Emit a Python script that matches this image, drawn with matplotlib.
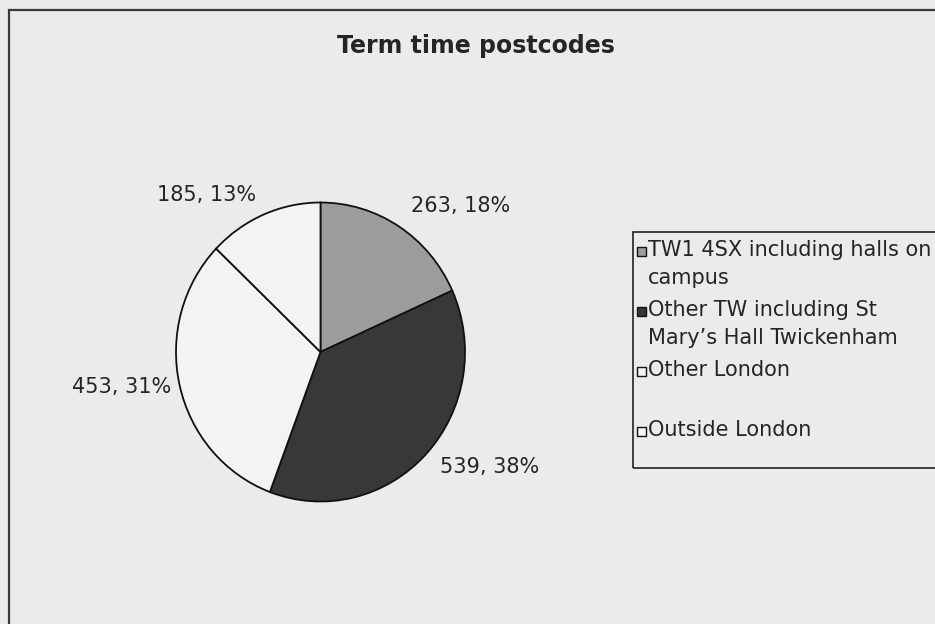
import numpy as np
import matplotlib
matplotlib.use("Agg")
import matplotlib.pyplot as plt
from matplotlib.patches import Rectangle

# ---- data ----
categories = ["TW1 4SX including halls on\ncampus",
              "Other TW including St\nMary\u2019s Hall Twickenham",
              "Other London",
              "Outside London"]
values = [263, 539, 453, 185]
percents = [18, 38, 31, 13]
title = "Term time postcodes"

# ---- style ----
W, H = 935, 624
bg = "#ebebeb"
slice_colors = ["#9c9c9c", "#383838", "#f3f3f3", "#f3f3f3"]
txt_color = "#252525"
font = "DejaVu Sans"
label_dist = [1.16, 1.13, 1.06, 1.14]

def fx(x):
    return x / W

def fy(y):
    return 1 - y / H

fig = plt.figure(figsize=(W / 100, H / 100), dpi=100, facecolor=bg)

# outer chart frame (extends past right / bottom edge like the scan)
fig.patches.append(Rectangle((fx(9), fy(640)), fx(950) - fx(9), fy(10) - fy(640),
                             transform=fig.transFigure, fill=False,
                             edgecolor="#3a3a3a", linewidth=1.6, zorder=0))

# title
fig.text(fx(476), fy(46), title, ha="center", va="center", fontsize=17,
         fontweight="bold", color=txt_color, family=font)

# pie
cx, cy, rx, ry = 320.5, 352, 144.5, 149.5
ax = fig.add_axes([fx(cx - rx), fy(cy + ry), (2 * rx) / W, (2 * ry) / H])
labels = [f"{v}, {p}%" for v, p in zip(values, percents)]
wedges, _ = ax.pie(values, colors=slice_colors, startangle=90, counterclock=False,
                   wedgeprops=dict(edgecolor="#111111", linewidth=1.3))
ax.set_aspect("auto")
ax.set_xlim(-1, 1)
ax.set_ylim(-1, 1)
ax.axis("off")
for w, lab, d in zip(wedges, labels, label_dist):
    ang = np.deg2rad((w.theta1 + w.theta2) / 2)
    x, y = d * np.cos(ang), d * np.sin(ang)
    ax.text(x, y, lab, ha="left" if x > 0 else "right", va="center",
            fontsize=15, color=txt_color, family=font, clip_on=False)

# legend (Excel style: marker aligned with first line)
lg_left, lg_top, lg_bottom = 633, 232, 468
fig.patches.append(Rectangle((fx(lg_left), fy(lg_bottom)), fx(950) - fx(lg_left),
                             fy(lg_top) - fy(lg_bottom), transform=fig.transFigure,
                             facecolor="none", edgecolor="#222222", linewidth=1.2, zorder=1))
first_line_y = [251, 311, 371, 431]
sq = 9
for cat, col, ly in zip(categories, slice_colors, first_line_y):
    fig.patches.append(Rectangle((fx(637), fy(ly + sq / 2)), sq / W, sq / H,
                                 transform=fig.transFigure, facecolor=col,
                                 edgecolor="#111111", linewidth=1.0, zorder=2))
    fig.text(fx(648), fy(ly - 11), cat, ha="left", va="top", fontsize=15,
             color=txt_color, family=font, linespacing=1.5)

fig.savefig("out.png", dpi=100, facecolor=bg)
